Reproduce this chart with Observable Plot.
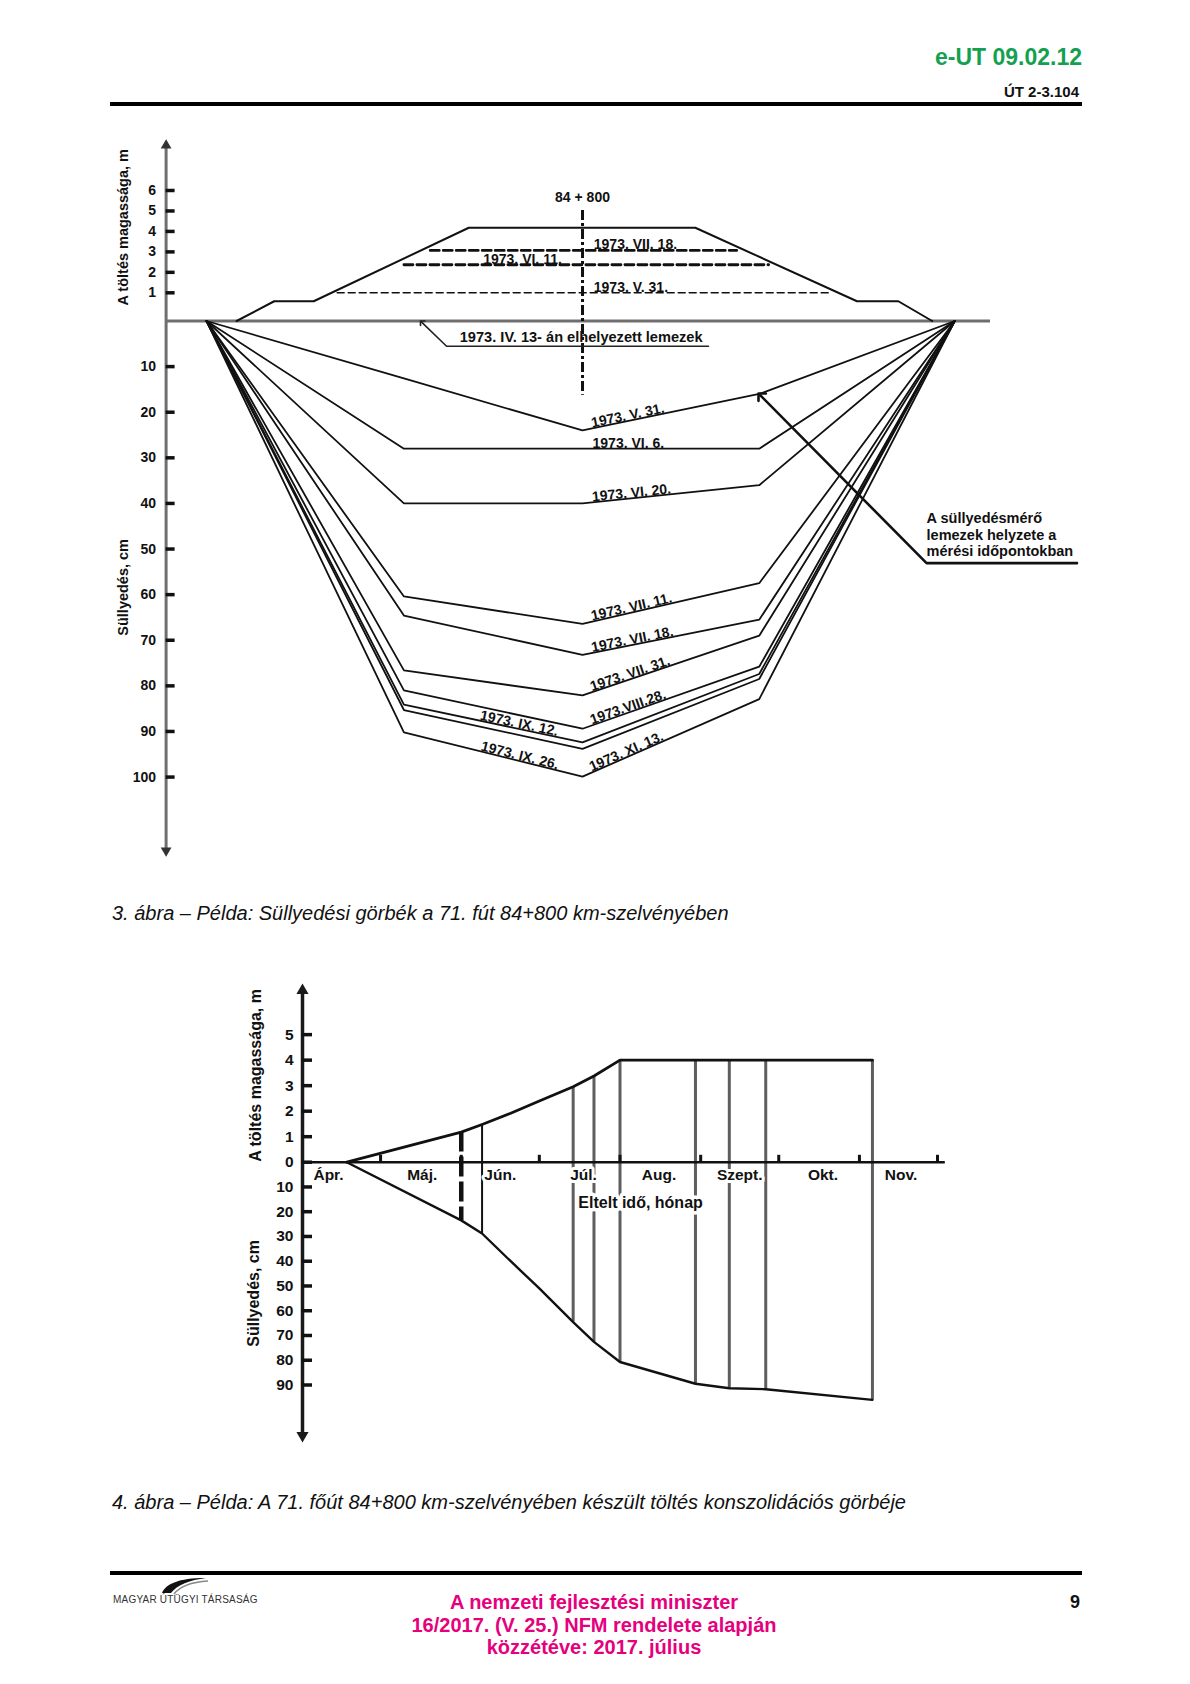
<!DOCTYPE html>
<html><head><meta charset="utf-8">
<script src="https://cdn.jsdelivr.net/npm/d3@7"></script>
<script src="https://cdn.jsdelivr.net/npm/@observablehq/plot@0.6"></script>
<style>
html,body{margin:0;padding:0;background:#fff}
#page{position:relative;width:1190px;height:1684px;font-family:"Liberation Sans",Arial,sans-serif;color:#111;overflow:hidden;background:#fff}
.abs{position:absolute;white-space:nowrap}
.rule{position:absolute;background:#000}
</style></head><body><div id="page">
<div class="abs" style="right:108px;top:43px;font-size:23px;line-height:28px;font-weight:bold;color:#14a050">e-UT 09.02.12</div>
<div class="abs" style="right:111px;top:83px;font-size:15px;line-height:18px;font-weight:bold;color:#111">ÚT 2-3.104</div>
<div class="rule" style="left:110px;top:102px;width:972px;height:4px"></div>
<div id="chart1" class="abs" style="left:0;top:130px"></div>
<div class="abs" style="left:112px;top:901px;font-size:20px;line-height:24px;font-style:italic">3. ábra – Példa: Süllyedési görbék a 71. fút 84+800 km-szelvényében</div>
<div id="chart2" class="abs" style="left:0;top:960px"></div>
<div class="abs" style="left:112px;top:1490px;font-size:20px;line-height:24px;font-style:italic">4. ábra – Példa: A 71. főút 84+800 km-szelvényében készült töltés konszolidációs görbéje</div>
<div class="rule" style="left:110px;top:1571px;width:972px;height:4px"></div>
<svg class="abs" style="left:160px;top:1576px" width="50" height="20" viewBox="0 0 50 20"><path d="M2,17 C6,8 18,2 46,2 C30,4 17,9 11,17 Z" fill="#111"/><path d="M14,18 C20,10 32,6 48,5" stroke="#888" stroke-width="1.5" fill="none"/></svg>
<div class="abs" style="left:113px;top:1594px;font-size:10px;line-height:11px;color:#333;letter-spacing:0.2px">MAGYAR ÚTÜGYI TÁRSASÁG</div>
<div class="abs" style="left:344px;top:1591px;width:500px;text-align:center;font-size:20px;line-height:22.5px;font-weight:bold;color:#e5007d">A nemzeti fejlesztési miniszter<br>16/2017. (V. 25.) NFM rendelete alapján<br>közzétéve: 2017. július</div>
<div class="abs" style="right:110px;top:1591px;font-size:18px;line-height:22px;font-weight:bold">9</div>
</div>
<script>
// ---------------- DATA: figure 3 (cross-section) ----------------
// x: distance from the centreline (m), heights above ground in m, settlements in cm
const plateX = [-20, -9.5, 0, 9.4, 19.8];
const surveyLabels = ["1973. V. 31.", "1973. VI. 6.", "1973. VI. 20.", "1973. VII. 11.", "1973. VII. 18.",
  "1973. VII. 31.", "1973.VIII.28.", "1973. IX. 12.", "1973. IX. 26.", "1973. XI. 13."];
const settleLeft   = [12.6, 28, 40, 60.4, 64.6, 76.6, 81.0, 84.1, 85.3, 90.2];
const settleCentre = [24, 28, 40, 66.4, 73.2, 82.1, 89.4, 92.4, 93.8, 99.9];
const settleRight  = [16, 28, 36, 57.5, 65.5, 69.0, 75.8, 77.4, 78.5, 82.9];
const labelOnCurve = [0, 1, 2, 3, 4, 5, 6, 7, 9, 9];
const labelSide    = ["r", "r", "r", "r", "r", "r", "r", "l", "l", "r"];

const embankX = [-18.4, -16.4, -14.3, -6.05, 6.0, 14.6, 16.8, 18.6];
const embankH = [0, 0.7, 0.7, 4.18, 4.18, 0.7, 0.7, 0];
const fillStages = ["1973. V. 31.", "1973. VI. 11.", "1973. VII. 18."];
const fillH      = [1.0, 2.37, 3.07];
const fillLeftX  = [-13.05, -9.5, -8.1];
const fillRightX = [13.2, 9.9, 8.2];
const fillLabelX = [0.6, -1.1, 0.6];
const fillLabelSide = ["r", "l", "r"];

const topHeightTicks = [1, 2, 3, 4, 5, 6];
const topSettleTicks = [10, 20, 30, 40, 50, 60, 70, 80, 90, 100];
const topAxisExtent = [-116.1, 8.2];      // settlement cm (neg) .. height m
const groundExtent = [-22.15, 21.7];
const centreLine = [5.02, -16.3];
const stationLabel = "84 + 800";
const plateNote = "1973. IV. 13- án elhelyezett lemezek";
const plateLeader = [[6.7, -5.53], [-7.23, -5.53], [-8.56, -0.25]];
const posNote = "A süllyedésmérő\nlemezek helyzete a\nmérési időpontokban";
const posLeader = [[26.3, -53.1], [18.3, -53.1], [9.46, -16.3]];

// ---------------- DATA: figure 4 (consolidation) ----------------
const monthNames  = ["Ápr.", "Máj.", "Jún.", "Júl.", "Aug.", "Szept.", "Okt.", "Nov."];
const monthLabelAt = ["1973-04-11", "1973-05-17", "1973-06-16", "1973-07-18", "1973-08-16", "1973-09-16", "1973-10-18", "1973-11-17"];
const monthTicks  = ["1973-05-01", "1973-06-01", "1973-07-01", "1973-08-01", "1973-09-01", "1973-10-01", "1973-11-01", "1973-12-01"];
const consDates   = ["1973-04-18", "1973-06-01", "1973-06-09", "1973-06-20", "1973-07-01", "1973-07-14", "1973-07-22",
  "1973-08-01", "1973-08-30", "1973-09-12", "1973-09-26", "1973-11-06"];
const fillHeightM = [0, 1.18, 1.48, 1.92, 2.40, 2.96, 3.38, 4.0, 4.0, 4.0, 4.0, 4.0];
const settleCm    = [0, 23.5, 28.8, 40, 51, 64.6, 72.6, 80.7, 89.5, 91.3, 91.7, 96.0];
const measuredDates = ["1973-06-01", "1973-06-09", "1973-07-14", "1973-07-22", "1973-08-01", "1973-08-30", "1973-09-12", "1973-09-26", "1973-11-06"];
const botHeightTicks = [0, 1, 2, 3, 4, 5];
const botSettleTicks = [10, 20, 30, 40, 50, 60, 70, 80, 90];
const botAxisExtent = [-110.4, 6.73];
const xAxisEnd = "1973-12-04";
const xTitle = "Eltelt idő, hónap";
const xTitleDate = "1973-07-16";

// ---------------- FIGURE 3 ----------------
const FONT = "'Liberation Sans', Arial, sans-serif";
const W = 1190;
const x1Domain = [-22.15, 21.85], x1Range = [165.6, 992.8];
const y1Domain = [topAxisExtent[0], 0, 1, 6, topAxisExtent[1]];
const y1Range = [720, 190.5, 162.3, 60, 15];
const sx = Plot.scale({x: {domain: x1Domain, range: x1Range}});
const sy = Plot.scale({y: {type: "linear", domain: y1Domain, range: y1Range}});

const curves = surveyLabels.map((d, i) => [settleLeft[i], settleCentre[i], settleRight[i]]);
const curveRows = curves.flatMap((c, i) => plateX.map((x, j) => ({date: surveyLabels[i], x, y: j === 0 || j === 4 ? 0 : -c[j - 1]})));
function node(ci, j) { return {x: plateX[j], y: j === 0 || j === 4 ? 0 : -curves[ci][j - 1]}; }
function along(p, q, off) {
  const px = sx.apply(p.x), py = sy.apply(p.y), qx = sx.apply(q.x), qy = sy.apply(q.y);
  const t = off / Math.hypot(qx - px, qy - py);
  return {x: p.x + (q.x - p.x) * t, y: p.y + (q.y - p.y) * t};
}
const curveLabelRows = surveyLabels.map((text, i) => {
  const ci = labelOnCurve[i], c = node(ci, 2);
  if (labelSide[i] === "r") {
    const r = node(ci, 3), p = along(c, r, 10);
    const a = Math.atan2(sy.apply(r.y) - sy.apply(c.y), sx.apply(r.x) - sx.apply(c.x)) * 180 / Math.PI;
    return {text, ...p, angle: a, side: "r"};
  } else {
    const l = node(ci, 1), p = along(c, l, 26);
    const a = Math.atan2(sy.apply(c.y) - sy.apply(l.y), sx.apply(c.x) - sx.apply(l.x)) * 180 / Math.PI;
    return {text, ...p, angle: a, side: "l"};
  }
});
const embankRows = embankX.map((x, i) => ({x, y: embankH[i]}));
const fillRows = fillStages.flatMap((s, i) => [{s, x: fillLeftX[i], y: fillH[i]}, {s, x: fillRightX[i], y: fillH[i]}]);
const fillLabelRows = fillStages.map((s, i) => ({s, x: fillLabelX[i], y: fillH[i], side: fillLabelSide[i]}));
const topTicks = [...topHeightTicks, ...topSettleTicks.map(d => -d)];
const frameW1 = x1Range[1] - x1Range[0];
const txt = {fontFamily: FONT, fontWeight: "bold", fill: "#111"};

const chart1 = Plot.plot({
  width: W, height: 740,
  marginLeft: x1Range[0], marginRight: W - x1Range[1], marginTop: 0, marginBottom: 0,
  x: {domain: x1Domain, range: x1Range, axis: null},
  y: {type: "linear", domain: y1Domain, range: y1Range, axis: null},
  style: {fontFamily: FONT, overflow: "visible", background: "transparent"},
  marks: [
    Plot.ruleY([0], {x1: groundExtent[0], x2: groundExtent[1], stroke: "#6f6f6f", strokeWidth: 3}),
    Plot.line(embankRows, {x: "x", y: "y", stroke: "#111", strokeWidth: 2}),
    Plot.line(fillRows.filter(d => d.s !== fillStages[0]), {x: "x", y: "y", z: "s", stroke: "#111", strokeWidth: 2.8, strokeDasharray: "9,4"}),
    Plot.line(fillRows.filter(d => d.s === fillStages[0]), {x: "x", y: "y", z: "s", stroke: "#111", strokeWidth: 1.5, strokeDasharray: "7,4"}),
    Plot.ruleX([0], {y1: centreLine[0], y2: centreLine[1], stroke: "#111", strokeWidth: 3, strokeDasharray: "10,3,3,3"}),
    Plot.line(curveRows, {x: "x", y: "y", z: "date", stroke: "#111", strokeWidth: 1.8, strokeLinejoin: "miter"}),
    Plot.text(curveLabelRows.filter(d => d.side === "r"), {x: "x", y: "y", text: "text", rotate: "angle", textAnchor: "start", lineAnchor: "bottom", dy: -1, fontSize: 14, ...txt}),
    Plot.text(curveLabelRows.filter(d => d.side === "l"), {x: "x", y: "y", text: "text", rotate: "angle", textAnchor: "end", lineAnchor: "bottom", dy: -1, fontSize: 14, ...txt}),
    Plot.text(fillLabelRows.filter(d => d.side === "r"), {x: "x", y: "y", text: "s", textAnchor: "start", lineAnchor: "bottom", dy: -1, fontSize: 14, ...txt}),
    Plot.text(fillLabelRows.filter(d => d.side === "l"), {x: "x", y: "y", text: "s", textAnchor: "end", lineAnchor: "bottom", dy: -1, fontSize: 14, ...txt}),
    Plot.text([stationLabel], {x: 0, y: 5.66, text: d => d, textAnchor: "middle", fontSize: 14, ...txt}),
    Plot.line(plateLeader.map(([x, y]) => ({x, y})), {x: "x", y: "y", stroke: "#222", strokeWidth: 1.6, markerEnd: "arrow"}),
    Plot.text([plateNote], {x: plateLeader[1][0] + 0.7, y: -4.7, text: d => d, textAnchor: "start", lineAnchor: "bottom", fontSize: 14.6, ...txt}),
    Plot.line(posLeader.map(([x, y]) => ({x, y})), {x: "x", y: "y", stroke: "#111", strokeWidth: 2.6, markerEnd: "arrow"}),
    Plot.text([posNote], {x: posLeader[1][0], y: -51.6, text: d => d, textAnchor: "start", lineAnchor: "bottom", lineHeight: 1.15, fontSize: 14.5, ...txt}),
    // y axis
    Plot.ruleX([x1Domain[0]], {y1: topAxisExtent[0], y2: topAxisExtent[1], stroke: "#6f6f6f", strokeWidth: 3}),
    Plot.dot([{y: topAxisExtent[1], r: 0}, {y: topAxisExtent[0], r: 180}], {x: x1Domain[0], y: "y", rotate: "r", symbol: "triangle", r: 4, fill: "#333", stroke: null}),
    Plot.tickY(topTicks, {y: d => d, insetRight: frameW1 - 9, stroke: "#111", strokeWidth: 3.5}),
    Plot.text(topTicks, {y: d => d, text: d => Math.abs(d), frameAnchor: "left", dx: -10, textAnchor: "end", fontSize: 14, ...txt}),
    Plot.text(["A töltés magassága, m"], {frameAnchor: "left", dx: -42.3, y: 4.2, text: d => d, rotate: -90, textAnchor: "middle", fontSize: 14.5, ...txt}),
    Plot.text(["Süllyedés, cm"], {frameAnchor: "left", dx: -42.3, y: -58.4, text: d => d, rotate: -90, textAnchor: "middle", fontSize: 14.5, ...txt})
  ]
});
document.getElementById("chart1").appendChild(chart1);

// ---------------- FIGURE 4 ----------------
const P = d3.utcParse("%Y-%m-%d");
const x2Domain = [P("1973-04-01"), P("1973-12-01")], x2Range = [302, 937];
const y2Domain = [botAxisExtent[0], 0, botAxisExtent[1]], y2Range = [475, 201.7, 30];
const cons = consDates.map((d, i) => ({date: P(d), h: fillHeightM[i], s: -settleCm[i]}));
const measured = measuredDates.map(d => cons.find(c => +c.date === +P(d)));
const botTicks = [...botHeightTicks, ...botSettleTicks.map(d => -d)];
const frameW2 = x2Range[1] - x2Range[0];
const monthLabels = monthNames.map((name, i) => ({name, date: P(monthLabelAt[i])}));
const txt2 = {fontFamily: FONT, fontWeight: "bold", fill: "#111", fontSize: 15.5};

const chart2 = Plot.plot({
  width: W, height: 500,
  marginLeft: x2Range[0], marginRight: W - x2Range[1], marginTop: 0, marginBottom: 0,
  x: {type: "utc", domain: x2Domain, range: x2Range, axis: null},
  y: {type: "linear", domain: y2Domain, range: y2Range, axis: null},
  style: {fontFamily: FONT, overflow: "visible", background: "transparent"},
  marks: [
    Plot.ruleX(measured.slice(2), {x: "date", y1: "h", y2: "s", stroke: "#5e5e5e", strokeWidth: 3}),
    Plot.ruleX(measured.slice(1, 2), {x: "date", y1: "h", y2: "s", stroke: "#111", strokeWidth: 2}),
    Plot.ruleX(measured.slice(0, 1), {x: "date", y1: "h", y2: "s", stroke: "#111", strokeWidth: 4.5, strokeDasharray: "20,5"}),
    Plot.line(cons, {x: "date", y: "h", stroke: "#111", strokeWidth: 2.8}),
    Plot.line(cons, {x: "date", y: "s", stroke: "#111", strokeWidth: 2.4}),
    Plot.ruleY([0], {x1: x2Domain[0], x2: P(xAxisEnd), stroke: "#111", strokeWidth: 2.5}),
    Plot.ruleX(monthTicks.map(P), {x: d => d, y1: 0, y2: 0.27, stroke: "#111", strokeWidth: 3}),
    Plot.text(monthLabels, {x: "date", y: 0, text: "name", textAnchor: "middle", lineAnchor: "top", dy: 7, stroke: "white", strokeWidth: 6, paintOrder: "stroke", ...txt2}),
    Plot.text([xTitle], {x: P(xTitleDate), y: -16.6, text: d => d, textAnchor: "start", stroke: "white", strokeWidth: 7, paintOrder: "stroke", ...txt2, fontSize: 16}),
    // y axis
    Plot.ruleX([x2Domain[0]], {y1: botAxisExtent[0], y2: botAxisExtent[1], stroke: "#1a1a1a", strokeWidth: 3.5}),
    Plot.dot([{y: botAxisExtent[1], r: 0}, {y: botAxisExtent[0], r: 180}], {x: x2Domain[0], y: "y", rotate: "r", symbol: "triangle", r: 4.5, fill: "#1a1a1a", stroke: null}),
    Plot.tickY(botTicks, {y: d => d, insetRight: frameW2 - 10, stroke: "#111", strokeWidth: 3.5}),
    Plot.text(botTicks, {y: d => d, text: d => Math.abs(d), frameAnchor: "left", dx: -9, textAnchor: "end", ...txt2}),
    Plot.text(["A töltés magassága, m"], {frameAnchor: "left", dx: -47, y: 3.4, text: d => d, rotate: -90, textAnchor: "middle", ...txt2, fontSize: 16}),
    Plot.text(["Süllyedés, cm"], {frameAnchor: "left", dx: -49, y: -53, text: d => d, rotate: -90, textAnchor: "middle", ...txt2, fontSize: 16})
  ]
});
document.getElementById("chart2").appendChild(chart2);
</script>
</body></html>
